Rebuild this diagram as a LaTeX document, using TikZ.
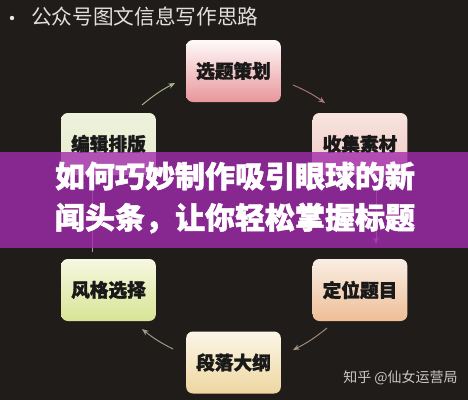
\documentclass[tikz,border=0pt]{standalone}
\usepackage{fontspec}
\newfontfamily\cjk{Noto Sans CJK SC}
\newfontfamily\cjkheavy[BoldFeatures={FakeBold=1.6}]{Noto Sans CJK SC}
\usetikzlibrary{arrows.meta}
\definecolor{bgdark}{HTML}{1F1C1A}
\definecolor{band}{HTML}{A22CAE}
\tikzset{
  box/.style={rounded corners=5pt, minimum width=71pt, minimum height=46.5pt,
    inner sep=0pt, font=\cjkheavy\bfseries\fontsize{14}{16}\selectfont, text=black!90},
  arr/.style={line width=0.7pt, -{Stealth[length=5pt,width=4pt]}},
}
\begin{document}
\begin{tikzpicture}[x=0.75pt,y=-0.75pt]
\fill[bgdark] (0,0) rectangle (468,400);
\useasboundingbox (0,0) rectangle (468,400);
% title
\fill[white!90!black] (12,18) circle (2.2);
\node[anchor=west, text=white!88!black, font=\cjk\fontsize{15.5}{17}\selectfont, inner sep=0pt] (title) at (31,17) {公众号图文信息写作思路};
% boxes
\node[box, top color=white!92!pink, bottom color={rgb,255:red,232;green,150;blue,155}] (xt) at (233.5,71) {选题策划};
\node[box, top color={rgb,255:red,248;green,228;blue,222}, bottom color={rgb,255:red,240;green,200;blue,195}] (sj) at (360,144) {收集素材};
\node[box, top color={rgb,255:red,250;green,238;blue,228}, bottom color={rgb,255:red,238;green,190;blue,150}] (dw) at (360,290) {定位题目};
\node[box, top color={rgb,255:red,252;green,246;blue,232}, bottom color={rgb,255:red,238;green,214;blue,160}] (dl) at (233.5,362.5) {段落大纲};
\node[box, top color={rgb,255:red,246;green,248;blue,224}, bottom color={rgb,255:red,216;green,228;blue,150}] (fg) at (108.5,290) {风格选择};
\node[box, top color={rgb,255:red,238;green,242;blue,222}, bottom color={rgb,255:red,228;green,236;blue,200}] (bj) at (108.5,144) {编辑排版};
% arrow endpoints
\coordinate (a1s) at (142,105); \coordinate (a1e) at (175,83);
\coordinate (a2s) at (293,85);  \coordinate (a2e) at (325,103);
\coordinate (a3s) at (376,180); \coordinate (a3e) at (376,244);
\coordinate (a4s) at (327,328); \coordinate (a4e) at (293,350);
\coordinate (a5s) at (173,349); \coordinate (a5e) at (142,329);
\coordinate (a6s) at (92,252);  \coordinate (a6e) at (92,182);
\draw[arr, draw={rgb,255:red,168;green,184;blue,140}] (a1s) to[bend left=6] (a1e);
\draw[arr, draw={rgb,255:red,176;green,120;blue,120}] (a2s) to[bend left=6] (a2e);
\draw[arr, draw={rgb,255:red,190;green,120;blue,180}] (a3s) -- (a3e);
\draw[arr, draw={rgb,255:red,165;green,145;blue,125}] (a4s) to[bend left=6] (a4e);
\draw[arr, draw={rgb,255:red,160;green,160;blue,140}] (a5s) to[bend left=6] (a5e);
\draw[arr, draw={rgb,255:red,180;green,150;blue,170}] (a6s) -- (a6e);
% banner
\fill[band, opacity=0.8] (0,152) rectangle (468,248);
\node[text=white, font=\cjkheavy\bfseries\fontsize{22.5}{31}\selectfont, align=center, inner sep=0pt] (headline) at (235,197.5) {如何巧妙制作吸引眼球的新\\闻头条，让你轻松掌握标题};
% watermark
\node[anchor=west, text=white!78!black, font=\cjk\fontsize{10.5}{12}\selectfont, inner sep=0pt] (wm) at (343,378) {知乎 @仙女运营局};
\end{tikzpicture}
\end{document}
